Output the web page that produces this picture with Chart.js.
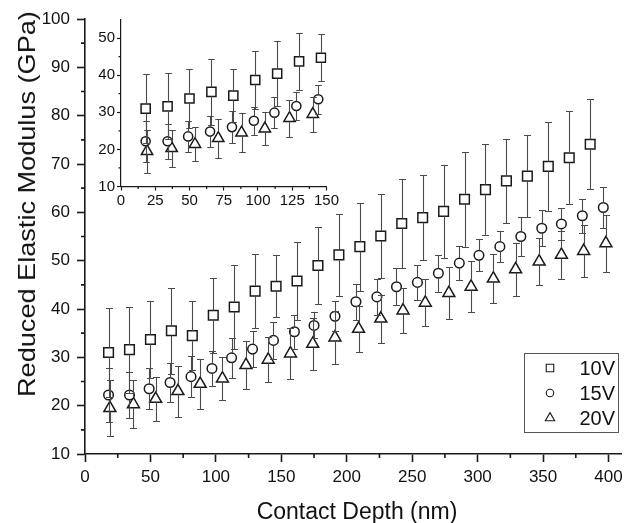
<!DOCTYPE html>
<html>
<head>
<meta charset="utf-8">
<title>Reduced Elastic Modulus vs Contact Depth</title>
<script src="https://cdn.jsdelivr.net/npm/chart.js@4.4.1/dist/chart.umd.min.js"></script>
<style>
  body { margin: 0; background: #fff; }
  .figure { position: relative; width: 630px; height: 523px; font-family: "Liberation Sans", Arial, sans-serif; color: #111; }
  .figure canvas { position: absolute; }
  #mainChart { left: 0; top: 0; }
  #insetChart { left: 80px; top: 0; }
  .axis-title { position: absolute; font-size: 23px; line-height: 1; white-space: nowrap; transform: translate(-50%, -50%); }
  .y-title { left: 27px; top: 204px; font-size: 24px; transform: translate(-50%, -50%) rotate(-90deg) scaleX(1.13); }
  .x-title { left: 357px; top: 511px; }
</style>
</head>
<body>
<div class="figure">
  <canvas id="mainChart" width="630" height="523"></canvas>
  <canvas id="insetChart" width="260" height="215"></canvas>
  <div class="axis-title y-title">Reduced Elastic Modulus (GPa)</div>
  <div class="axis-title x-title">Contact Depth (nm)</div>
</div>
<script>
// contact depth (nm), reduced modulus (GPa) and error (GPa) per voltage
const depth10 = [18, 34, 50, 66, 82, 98, 114, 130, 146, 162, 178, 194, 210, 226, 242, 258, 274, 290, 306, 322, 338, 354, 370, 386];
const modulus10 = [31.0, 31.6, 33.7, 35.5, 34.5, 38.7, 40.4, 43.7, 44.7, 45.8, 49.0, 51.2, 52.9, 55.1, 57.7, 58.9, 60.2, 62.7, 64.7, 66.5, 67.5, 69.5, 71.3, 74.1];
const error10 = [9.2, 8.9, 8.0, 8.9, 7.1, 7.8, 8.7, 7.7, 6.4, 8.0, 8.0, 8.5, 9.1, 8.7, 9.3, 8.8, 9.6, 9.8, 9.4, 8.7, 8.4, 9.2, 9.6, 9.3];

const depth15 = [18, 34, 49, 65, 81, 97, 112, 128, 144, 160, 175, 191, 207, 223, 238, 254, 270, 286, 301, 317, 333, 349, 364, 380, 396];
const modulus15 = [22.2, 22.2, 23.5, 24.8, 26.0, 27.7, 29.9, 31.7, 33.5, 35.3, 36.6, 38.5, 41.5, 42.5, 44.6, 45.5, 47.4, 49.5, 51.1, 52.9, 55.0, 56.7, 57.6, 59.3, 61.0];
const error15 = [5.5, 4.7, 4.2, 4.1, 4.3, 3.7, 4.2, 3.7, 3.9, 3.5, 2.7, 3.1, 3.7, 3.7, 3.8, 3.7, 3.8, 3.6, 3.3, 3.2, 4.0, 3.7, 3.4, 3.5, 4.3];

const depth20 = [19, 37, 54, 71, 88, 105, 123, 140, 157, 174, 191, 209, 226, 243, 260, 278, 295, 312, 329, 347, 364, 381, 398];
const modulus20 = [19.5, 20.3, 21.4, 23.0, 24.5, 25.6, 28.4, 29.5, 30.8, 32.8, 34.1, 35.9, 38.0, 39.7, 41.3, 43.3, 44.6, 46.3, 48.2, 49.8, 51.2, 52.0, 53.6];
const error20 = [5.8, 5.0, 4.5, 5.3, 5.2, 4.4, 5.0, 4.7, 5.3, 5.4, 5.5, 4.7, 5.0, 4.7, 4.9, 5.3, 5.3, 5.0, 5.5, 4.9, 5.0, 5.3, 5.9];

const seriesLabels = ["10V", "15V", "20V"];

const INK = "#1a1a1a";
const BAR = "#4a4a4a";
Chart.defaults.font.family = '"Liberation Sans", Arial, sans-serif';
Chart.defaults.color = "#111";

function toPoints(xs, ys, es, maxX) {
  const pts = [];
  xs.forEach((x, i) => {
    if (x <= maxX) pts.push({ x: x, y: ys[i], e: es[i] });
  });
  return pts;
}

function buildDatasets(maxX, scale) {
  return [
    { label: seriesLabels[0], data: toPoints(depth10, modulus10, error10, maxX), pointStyle: "rect", pointRadius: 6.8 * scale },
    { label: seriesLabels[1], data: toPoints(depth15, modulus15, error15, maxX), pointStyle: "circle", pointRadius: 4.8 * scale },
    { label: seriesLabels[2], data: toPoints(depth20, modulus20, error20, maxX), pointStyle: "triangle", pointRadius: 6.9 * scale },
  ].map((ds) =>
    Object.assign(ds, {
      showLine: false,
      pointBackgroundColor: "#fff",
      pointBorderColor: INK,
      pointBorderWidth: 1.5,
      pointHoverRadius: ds.pointRadius,
    })
  );
}

// how far the symbol reaches above / below its point, so bars stop at it
function symbolGap(ds) {
  const r = ds.pointRadius;
  if (ds.pointStyle === "rect") return [r * Math.SQRT1_2, r * Math.SQRT1_2];
  if (ds.pointStyle === "triangle") return [r, r / 2];
  return [r, r];
}

const errorBars = {
  id: "errorBars",
  afterDatasetsDraw(chart, args, opts) {
    const { ctx, scales: { x, y } } = chart;
    ctx.save();
    ctx.strokeStyle = opts.color;
    ctx.lineWidth = opts.width;
    chart.data.datasets.forEach((ds) => {
      const [gapUp, gapDown] = symbolGap(ds);
      ds.data.forEach((p) => {
        const px = Math.round(x.getPixelForValue(p.x)) + 0.5;
        const py = y.getPixelForValue(p.y);
        const top = Math.round(y.getPixelForValue(p.y + p.e)) + 0.5;
        const bottom = Math.round(y.getPixelForValue(p.y - p.e)) + 0.5;
        ctx.beginPath();
        ctx.moveTo(px, top);
        ctx.lineTo(px, py - gapUp);
        ctx.moveTo(px, py + gapDown);
        ctx.lineTo(px, bottom);
        ctx.moveTo(px - opts.cap, top);
        ctx.lineTo(px + opts.cap, top);
        ctx.moveTo(px - opts.cap, bottom);
        ctx.lineTo(px + opts.cap, bottom);
        ctx.stroke();
      });
    });
    ctx.restore();
  },
};

// short unlabeled ticks halfway between the labeled ones
const minorTicks = {
  id: "minorTicks",
  afterDraw(chart, args, opts) {
    const { ctx, scales: { x, y } } = chart;
    ctx.save();
    ctx.strokeStyle = INK;
    ctx.lineWidth = opts.width;
    ctx.beginPath();
    for (let i = 1; x.min + i * opts.xStep < x.max; i += 2) {
      const px = x.getPixelForValue(x.min + i * opts.xStep);
      ctx.moveTo(px, y.bottom);
      ctx.lineTo(px, y.bottom + opts.length);
    }
    for (let i = 1; y.min + i * opts.yStep < y.max; i += 2) {
      const py = y.getPixelForValue(y.min + i * opts.yStep);
      ctx.moveTo(x.left, py);
      ctx.lineTo(x.left - opts.length, py);
    }
    ctx.stroke();
    ctx.restore();
  },
};

const legendBox = {
  id: "legendBox",
  afterDraw(chart, args, opts) {
    const { ctx, chartArea } = chart;
    const left = Math.round(chartArea.right - opts.right - opts.width) + 0.5;
    const top = Math.round(chartArea.bottom - opts.bottom - opts.height) + 0.5;
    ctx.save();
    ctx.strokeStyle = "#555";
    ctx.lineWidth = 1;
    ctx.strokeRect(left, top, opts.width, opts.height);
    chart.data.datasets.forEach((ds, i) => {
      const cy = top + opts.firstRow + i * opts.rowGap;
      ctx.fillStyle = "#fff";
      ctx.strokeStyle = INK;
      ctx.lineWidth = 1.1;
      Chart.helpers.drawPoint(
        ctx,
        { pointStyle: ds.pointStyle, radius: ds.pointRadius * 0.78, borderWidth: 1.1, rotation: 0 },
        left + opts.symbolX,
        cy
      );
      ctx.fillStyle = "#111";
      ctx.font = '20px "Liberation Sans", Arial, sans-serif';
      ctx.textAlign = "left";
      ctx.textBaseline = "middle";
      ctx.fillText(ds.label, left + opts.textX, cy + 1);
    });
    ctx.restore();
  },
};

function linearAxis(min, max, step, fontSize, tickLength, pad, fitSize, horizontal, lineWidth) {
  return {
    type: "linear",
    min: min,
    max: max,
    border: { display: true, color: INK, width: lineWidth },
    grid: { drawOnChartArea: false, drawTicks: true, tickLength: tickLength, tickColor: INK, tickWidth: lineWidth },
    ticks: { stepSize: step, includeBounds: false, color: "#111", font: { size: fontSize }, padding: pad, maxRotation: 0, autoSkip: false },
    afterFit(scale) {
      if (horizontal) scale.height = fitSize;
      else scale.width = fitSize;
    },
  };
}

new Chart(document.getElementById("mainChart"), {
  type: "scatter",
  data: { datasets: buildDatasets(Infinity, 1) },
  options: {
    responsive: false,
    animation: false,
    events: [],
    layout: { padding: { left: 0, right: 4, top: 19, bottom: 0 } },
    plugins: {
      legend: { display: false },
      tooltip: { enabled: false },
      errorBars: { color: BAR, width: 1.1, cap: 3.5 },
      minorTicks: { xStep: 25, yStep: 5, length: 4, width: 1.6 },
      legendBox: { right: 4, bottom: 22, width: 94, height: 79, firstRow: 14.5, rowGap: 25, symbolX: 25.5, textX: 55 },
    },
    scales: {
      x: linearAxis(0, 410, 50, 17, 8, 5, 69, true, 1.6),
      y: linearAxis(10, 100, 10, 17, 8, 7, 85, false, 1.6),
    },
  },
  plugins: [errorBars, minorTicks, legendBox],
});

// inset: the same measurements, zoomed on the first 150 nm
new Chart(document.getElementById("insetChart"), {
  type: "scatter",
  data: { datasets: buildDatasets(150, 0.95) },
  options: {
    responsive: false,
    animation: false,
    events: [],
    layout: { padding: { left: 0, right: 12.7, top: 19.5, bottom: 0 } },
    plugins: {
      legend: { display: false },
      tooltip: { enabled: false },
      errorBars: { color: BAR, width: 1.1, cap: 3.3 },
      minorTicks: { xStep: 12.5, yStep: 5, length: 2.5, width: 1.2 },
    },
    scales: {
      x: linearAxis(0, 150, 25, 15, 4, 1, 28.5, true, 1.2),
      y: linearAxis(10, 55, 10, 15, 4, 2, 41, false, 1.2),
    },
  },
  plugins: [errorBars, minorTicks],
});
</script>
</body>
</html>
